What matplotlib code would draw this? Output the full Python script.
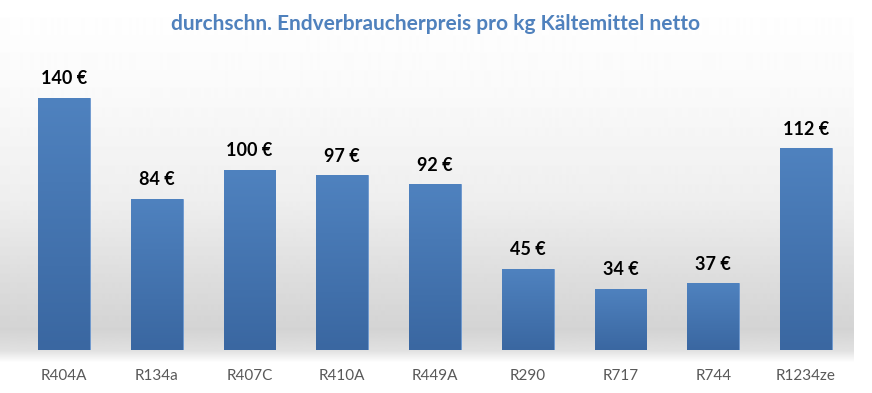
import numpy as np
import matplotlib.pyplot as plt
from matplotlib.colors import LinearSegmentedColormap

# Daten
kaeltemittel = ['R404A', 'R134a', 'R407C', 'R410A', 'R449A', 'R290', 'R717', 'R744', 'R1234ze']
preise = [140, 84, 100, 97, 92, 45, 34, 37, 112]
titel = 'durchschn. Endverbraucherpreis pro kg Kältemittel netto'

plt.rcParams['font.family'] = ['Lato', 'DejaVu Sans']

W, H = 872, 393
fig = plt.figure(figsize=(W / 100, H / 100), dpi=100)

# Hintergrund mit grauem Verlauf (Schatteneffekt)
bg = fig.add_axes([0, 0, 1, 1], zorder=0)
ys = np.array([0, 90, 200, 280, 330, 350, 362, 393])
vs = np.array([1.0, 0.98, 0.935, 0.865, 0.83, 0.88, 1.0, 1.0])
col = np.interp(np.arange(H), ys, vs)
img = np.tile(col[:, None], (1, W))
img[:, 853:] = 1.0
bg.imshow(img, cmap='gray', vmin=0, vmax=1, aspect='auto', extent=[0, W, H, 0])
bg.axis('off')

left = 17.6 / W
right = 852.4 / W
bottom = 1 - 350 / H
ymax = 160
top_px = 350 - ymax * 1.8
ax = fig.add_axes([left, bottom, right - left, (350 - top_px) / H], zorder=1)
ax.patch.set_alpha(0)

x = np.arange(len(kaeltemittel))
bars = ax.bar(x, preise, width=0.56, color='#4a7dbb', edgecolor='#6b97cf', linewidth=0.6)

cmap = LinearSegmentedColormap.from_list('blau', ['#3a67a1', '#4f82bf'])
grad = np.linspace(0, 1, 256)[:, None]
for b in bars:
    bx, by = b.get_x(), b.get_y()
    bw, bh = b.get_width(), b.get_height()
    im = ax.imshow(grad, cmap=cmap, aspect='auto', origin='lower',
                   extent=[bx, bx + bw, by, by + bh], zorder=2)
    im.set_clip_path(b)

for xi, p in zip(x, preise):
    ax.text(xi, p + 6, f'{p} €', ha='center', va='bottom', fontsize=13,
            fontweight='bold', color='black', zorder=3)

ax.set_xlim(-0.5, len(kaeltemittel) - 0.5)
ax.set_ylim(0, ymax)
ax.set_xticks(x)
ax.set_xticklabels(kaeltemittel, fontsize=11, color='#595959')
ax.tick_params(axis='x', length=0, pad=14)
ax.set_yticks([])
for s in ax.spines.values():
    s.set_visible(False)

fig.text(0.5, 1 - 24 / H, titel, ha='center', va='center', fontsize=15,
         fontweight='bold', color='#4f81bd')

fig.savefig('out.png', dpi=100)
